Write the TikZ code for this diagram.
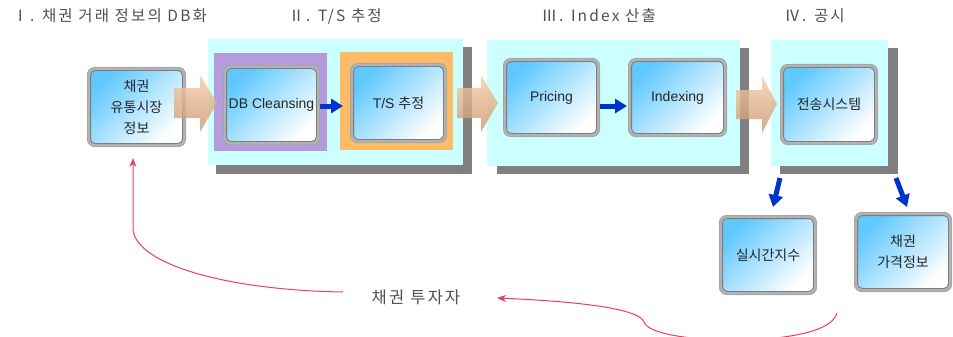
\documentclass[tikz,border=0pt]{standalone}
\usepackage{fontspec}
\setmainfont{Liberation Sans}
\newfontfamily\kr{Noto Sans CJK KR}
\newfontfamily\krsp[LetterSpace=14]{Noto Sans CJK KR}
\usetikzlibrary{arrows.meta}
\definecolor{cyanbg}{RGB}{204,255,255}
\definecolor{shadowgray}{RGB}{128,128,128}
\definecolor{purplebg}{RGB}{181,155,222}
\definecolor{orangebg}{RGB}{255,187,102}
\definecolor{boxblue}{RGB}{95,200,255}
\definecolor{boxframe}{RGB}{178,178,178}
\definecolor{frameline}{RGB}{125,125,125}
\definecolor{arrowblue}{RGB}{0,51,204}
\definecolor{curvered}{RGB}{235,60,100}
\definecolor{peachtop}{RGB}{248,205,165}
\definecolor{peachbot}{RGB}{200,150,110}
\definecolor{titlegray}{RGB}{80,80,80}
\begin{document}
\begin{tikzpicture}[x=1pt,y=-1pt,
  procbox/.style={rounded corners=6pt, draw=boxframe, line width=4pt,
    top color=boxblue, bottom color=white, shading angle=45,
    minimum width=#1, minimum height=76pt, align=center, inner sep=0pt,
    font=\fontsize{14}{21}\selectfont, text=black!85},
  procbox/.default=94pt,
  frameline/.style={draw=frameline, line width=0.8pt},
  bluearrow/.style={draw=arrowblue, line width=5pt,
    -{Triangle[length=12pt,width=14pt]}},
  bigarrow/.style={top color=peachtop, bottom color=peachbot, fill opacity=0.8, draw=none},
  curve/.style={draw=curvered, line width=1pt, -{Stealth[length=9pt,width=7pt]}},
  title/.style={anchor=west, text=titlegray, font=\krsp\fontsize{15.5}{18}\selectfont},
]
\useasboundingbox (0,0) rectangle (953,337);
% group backgrounds
\fill[shadowgray] (216,47) rectangle (472,174);
\fill[cyanbg] (208,39) rectangle (463,165);
\fill[purplebg] (214,53) rectangle (327,151);
\fill[orangebg] (340,52) rectangle (453,150);
\fill[shadowgray] (497,48) rectangle (749,174);
\fill[cyanbg] (487,40) rectangle (740,166);
\fill[shadowgray] (780,48) rectangle (898,174);
\fill[cyanbg] (771,40) rectangle (888,166);
% titles
\node[title] (t1) at (9,16) {Ⅰ. 채권 거래 정보의 DB화};
\node[title] (t2) at (285,16) {Ⅱ. T/S 추정};
\node[title] (t3) at (538,16) {Ⅲ. Index 산출};
\node[title] (t4) at (781,16) {Ⅳ. 공시};
% process boxes
\node[procbox=95pt] (src) at (136.5,107) {\kr 채권\\\kr 유통시장\\\kr 정보};
\node[procbox=93pt] (db) at (271.5,105) {DB Cleansing};
\node[procbox=93pt] (ts) at (398.5,103) {T/S {\kr 추정}};
\node[procbox=93pt, minimum height=75pt] (pr) at (551.5,97.5) {Pricing};
\node[procbox=95pt, minimum height=75pt] (ix) at (677.5,97.5) {Indexing};
\node[procbox=94pt, minimum height=77pt] (tx) at (829,104.5) {\kr 전송시스템};
\node[procbox=94pt] (rt) at (768,255) {\kr 실시간지수};
\node[procbox=94pt] (bp) at (903,252) {\kr 채권\\\kr 가격정보};
\foreach \n in {src,db,ts,pr,ix,tx,rt,bp}{
  \draw[frameline, rounded corners=4.5pt] ([xshift=3.6pt,yshift=3.6pt]\n.south west) rectangle ([xshift=-3.6pt,yshift=-3.6pt]\n.north east);
  \draw[draw=frameline!70, line width=0.7pt, rounded corners=7.5pt] ([xshift=0.4pt,yshift=0.4pt]\n.south west) rectangle ([xshift=-0.4pt,yshift=-0.4pt]\n.north east);
}
% blue arrows
\draw[bluearrow] ([yshift=-1pt]db.east) -- ([xshift=-7pt,yshift=-3pt]ts.west);
\draw[bluearrow] ([yshift=-8.5pt]pr.east) -- ([xshift=-1pt,yshift=-8.5pt]ix.west);
\coordinate (d1) at (780,178);
\coordinate (d2) at (896,178);
\draw[bluearrow] (d1) -- ([xshift=5pt,yshift=8pt]rt.north);
\draw[bluearrow] (d2) -- ([xshift=4pt,yshift=5pt]bp.north);
% big block arrows
\path[bigarrow] (174,88) -- (200,88) -- (200,75) -- (217,103) -- (200,132) -- (200,118) -- (174,118) -- cycle;
\path[bigarrow] (457,88) -- (481,88) -- (481,75) -- (498,103) -- (481,132) -- (481,118) -- (457,118) -- cycle;
\path[bigarrow] (736,90) -- (762,90) -- (762,76) -- (777,104) -- (762,133) -- (762,119) -- (736,119) -- cycle;
% investor
\node[text=titlegray, font=\krsp\fontsize{16.5}{18}\selectfont] (inv) at (416,297) {채권 투자자};
\coordinate (c1) at (837,313);
\coordinate (tip1) at (497,298);
\coordinate (c2) at (343,292);
\coordinate (tip2) at (133,158);
\draw[curve] (c1) .. controls (832,333) and (780,340) .. (735,340)
  .. controls (690,340) and (648,334) .. (644,322)
  .. controls (640,310) and (590,302) .. (tip1);
\draw[curve] (c2) .. controls (220,290) and (133,262) .. (133,228) -- (tip2);
\end{tikzpicture}
\end{document}
